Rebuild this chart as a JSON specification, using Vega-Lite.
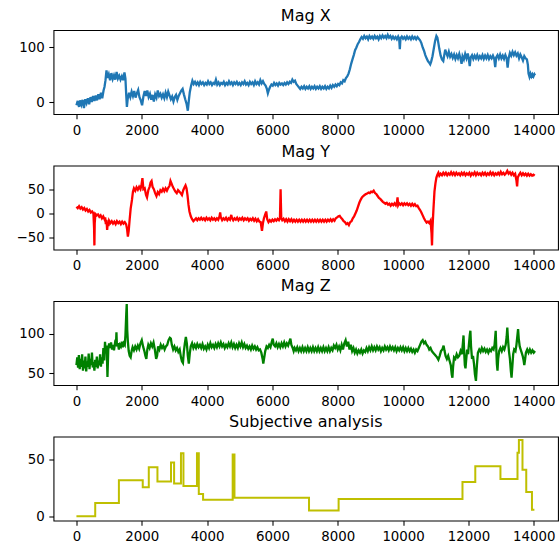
{
"$schema": "https://vega.github.io/schema/vega-lite/v6.json",
"autosize": {"type": "pad"},
"padding": {"left": 14.5, "top": 7, "right": 3, "bottom": 2},
"background": "white",
"config": {
  "view": {"stroke": "black", "strokeWidth": 1.07},
  "font": "DejaVu Sans",
  "axis": {"domain": false, "grid": false, "tickColor": "black", "tickSize": 4.67, "tickWidth": 1.07, "labelColor": "black", "labelFont": "DejaVu Sans", "labelFontSize": 13.33, "labelPadding": 4.67, "labelFlush": false, "labelOverlap": false},
  "title": {"font": "DejaVu Sans", "fontSize": 16, "fontWeight": "normal", "color": "black", "baseline": "alphabetic", "offset": 6}
},
"datasets": {
"magx": [
{"t":0,"v":-6},{"t":40,"v":2},{"t":80,"v":-9},{"t":110,"v":3},{"t":150,"v":-5},{"t":190,"v":4},{"t":230,"v":-11},{"t":270,"v":5},{"t":310,"v":-2},{"t":350,"v":7},{"t":390,"v":-4},{"t":430,"v":9},{"t":470,"v":0},{"t":510,"v":11},{"t":550,"v":2},{"t":590,"v":12},{"t":630,"v":3},{"t":670,"v":14},{"t":710,"v":5},{"t":750,"v":17},{"t":790,"v":7},{"t":830,"v":21},{"t":860,"v":28},{"t":890,"v":40},{"t":920,"v":58},{"t":950,"v":44},{"t":990,"v":51},{"t":1030,"v":40},{"t":1070,"v":53},{"t":1110,"v":42},{"t":1150,"v":49},{"t":1190,"v":41},{"t":1230,"v":55},{"t":1270,"v":43},{"t":1310,"v":48},{"t":1350,"v":41},{"t":1390,"v":47},{"t":1430,"v":40},{"t":1470,"v":54},{"t":1500,"v":43},{"t":1525,"v":12},{"t":1545,"v":-9},{"t":1570,"v":6},{"t":1610,"v":17},{"t":1650,"v":9},{"t":1690,"v":19},{"t":1730,"v":11},{"t":1770,"v":20},{"t":1810,"v":8},{"t":1850,"v":16},{"t":1890,"v":22},{"t":1930,"v":9},{"t":1970,"v":3},{"t":2010,"v":-6},{"t":2050,"v":10},{"t":2090,"v":20},{"t":2130,"v":11},{"t":2170,"v":21},{"t":2210,"v":9},{"t":2250,"v":15},{"t":2290,"v":4},{"t":2330,"v":13},{"t":2370,"v":1},{"t":2410,"v":14},{"t":2450,"v":8},{"t":2490,"v":21},{"t":2530,"v":11},{"t":2570,"v":15},{"t":2610,"v":8},{"t":2650,"v":14},{"t":2690,"v":7},{"t":2730,"v":17},{"t":2770,"v":9},{"t":2810,"v":19},{"t":2850,"v":12},{"t":2890,"v":5},{"t":2930,"v":10},{"t":2970,"v":1},{"t":3010,"v":9},{"t":3050,"v":13},{"t":3090,"v":4},{"t":3130,"v":11},{"t":3170,"v":16},{"t":3210,"v":21},{"t":3250,"v":24},{"t":3290,"v":14},{"t":3330,"v":5},{"t":3370,"v":-3},{"t":3410,"v":-16},{"t":3440,"v":2},{"t":3470,"v":18},{"t":3510,"v":30},{"t":3550,"v":39},{"t":3590,"v":33},{"t":3630,"v":37},{"t":3670,"v":32},{"t":3710,"v":36},{"t":3750,"v":31},{"t":3790,"v":37},{"t":3830,"v":33},{"t":3870,"v":36},{"t":3910,"v":31},{"t":3950,"v":35},{"t":3990,"v":32},{"t":4030,"v":38},{"t":4070,"v":33},{"t":4110,"v":36},{"t":4150,"v":31},{"t":4190,"v":35},{"t":4230,"v":33},{"t":4270,"v":41},{"t":4310,"v":32},{"t":4350,"v":36},{"t":4390,"v":31},{"t":4430,"v":35},{"t":4470,"v":33},{"t":4510,"v":37},{"t":4550,"v":31},{"t":4590,"v":35},{"t":4630,"v":32},{"t":4670,"v":38},{"t":4710,"v":33},{"t":4750,"v":36},{"t":4790,"v":31},{"t":4830,"v":36},{"t":4870,"v":33},{"t":4910,"v":37},{"t":4950,"v":32},{"t":4990,"v":35},{"t":5030,"v":31},{"t":5070,"v":36},{"t":5110,"v":33},{"t":5150,"v":38},{"t":5190,"v":32},{"t":5230,"v":35},{"t":5270,"v":31},{"t":5310,"v":37},{"t":5350,"v":33},{"t":5390,"v":36},{"t":5430,"v":31},{"t":5470,"v":38},{"t":5510,"v":33},{"t":5550,"v":36},{"t":5590,"v":32},{"t":5630,"v":40},{"t":5670,"v":34},{"t":5710,"v":38},{"t":5750,"v":33},{"t":5790,"v":30},{"t":5830,"v":24},{"t":5860,"v":16},{"t":5890,"v":22},{"t":5930,"v":28},{"t":5970,"v":32},{"t":6010,"v":30},{"t":6050,"v":35},{"t":6090,"v":31},{"t":6130,"v":34},{"t":6170,"v":30},{"t":6210,"v":35},{"t":6250,"v":32},{"t":6290,"v":34},{"t":6330,"v":31},{"t":6370,"v":35},{"t":6410,"v":32},{"t":6450,"v":36},{"t":6490,"v":33},{"t":6530,"v":37},{"t":6570,"v":35},{"t":6610,"v":41},{"t":6650,"v":37},{"t":6690,"v":39},{"t":6730,"v":33},{"t":6770,"v":30},{"t":6810,"v":27},{"t":6850,"v":24},{"t":6890,"v":28},{"t":6930,"v":25},{"t":6970,"v":29},{"t":7010,"v":24},{"t":7050,"v":28},{"t":7090,"v":25},{"t":7130,"v":29},{"t":7170,"v":24},{"t":7210,"v":28},{"t":7250,"v":25},{"t":7290,"v":29},{"t":7330,"v":24},{"t":7370,"v":28},{"t":7410,"v":25},{"t":7450,"v":29},{"t":7490,"v":24},{"t":7530,"v":28},{"t":7570,"v":25},{"t":7610,"v":29},{"t":7650,"v":24},{"t":7690,"v":28},{"t":7730,"v":25},{"t":7770,"v":30},{"t":7810,"v":26},{"t":7850,"v":31},{"t":7890,"v":28},{"t":7930,"v":32},{"t":7970,"v":29},{"t":8010,"v":33},{"t":8050,"v":31},{"t":8090,"v":36},{"t":8130,"v":34},{"t":8170,"v":40},{"t":8210,"v":38},{"t":8250,"v":44},{"t":8290,"v":47},{"t":8330,"v":52},{"t":8370,"v":60},{"t":8410,"v":70},{"t":8450,"v":78},{"t":8490,"v":86},{"t":8530,"v":95},{"t":8570,"v":100},{"t":8610,"v":106},{"t":8650,"v":110},{"t":8690,"v":115},{"t":8730,"v":119},{"t":8770,"v":116},{"t":8810,"v":121},{"t":8850,"v":117},{"t":8890,"v":120},{"t":8930,"v":115},{"t":8970,"v":121},{"t":9010,"v":117},{"t":9050,"v":120},{"t":9090,"v":116},{"t":9130,"v":121},{"t":9170,"v":117},{"t":9210,"v":120},{"t":9250,"v":115},{"t":9290,"v":121},{"t":9330,"v":117},{"t":9370,"v":122},{"t":9410,"v":118},{"t":9450,"v":121},{"t":9490,"v":117},{"t":9530,"v":123},{"t":9570,"v":118},{"t":9610,"v":121},{"t":9650,"v":116},{"t":9690,"v":120},{"t":9730,"v":116},{"t":9770,"v":119},{"t":9810,"v":115},{"t":9850,"v":120},{"t":9880,"v":116},{"t":9900,"v":97},{"t":9920,"v":117},{"t":9960,"v":120},{"t":10000,"v":116},{"t":10040,"v":119},{"t":10080,"v":115},{"t":10120,"v":120},{"t":10160,"v":116},{"t":10200,"v":119},{"t":10240,"v":115},{"t":10280,"v":120},{"t":10320,"v":116},{"t":10360,"v":119},{"t":10400,"v":115},{"t":10440,"v":119},{"t":10480,"v":116},{"t":10520,"v":113},{"t":10560,"v":108},{"t":10600,"v":100},{"t":10640,"v":94},{"t":10680,"v":86},{"t":10720,"v":80},{"t":10760,"v":75},{"t":10800,"v":72},{"t":10830,"v":69},{"t":10860,"v":74},{"t":10900,"v":84},{"t":10940,"v":98},{"t":10980,"v":112},{"t":11020,"v":121},{"t":11050,"v":118},{"t":11080,"v":108},{"t":11110,"v":97},{"t":11150,"v":85},{"t":11190,"v":78},{"t":11230,"v":75},{"t":11260,"v":86},{"t":11290,"v":96},{"t":11320,"v":90},{"t":11360,"v":84},{"t":11400,"v":92},{"t":11440,"v":83},{"t":11480,"v":88},{"t":11520,"v":81},{"t":11560,"v":87},{"t":11600,"v":79},{"t":11640,"v":86},{"t":11680,"v":80},{"t":11720,"v":88},{"t":11760,"v":79},{"t":11790,"v":70},{"t":11820,"v":84},{"t":11860,"v":78},{"t":11900,"v":88},{"t":11940,"v":80},{"t":11980,"v":89},{"t":12010,"v":79},{"t":12040,"v":66},{"t":12070,"v":82},{"t":12110,"v":86},{"t":12150,"v":79},{"t":12190,"v":85},{"t":12230,"v":80},{"t":12270,"v":86},{"t":12310,"v":79},{"t":12350,"v":84},{"t":12390,"v":80},{"t":12430,"v":86},{"t":12470,"v":79},{"t":12510,"v":85},{"t":12550,"v":80},{"t":12590,"v":86},{"t":12630,"v":79},{"t":12670,"v":84},{"t":12710,"v":80},{"t":12750,"v":85},{"t":12790,"v":79},{"t":12820,"v":64},{"t":12850,"v":82},{"t":12890,"v":86},{"t":12930,"v":80},{"t":12970,"v":87},{"t":13010,"v":80},{"t":13050,"v":85},{"t":13090,"v":79},{"t":13130,"v":86},{"t":13170,"v":80},{"t":13200,"v":63},{"t":13230,"v":80},{"t":13270,"v":90},{"t":13310,"v":85},{"t":13350,"v":92},{"t":13390,"v":86},{"t":13430,"v":91},{"t":13470,"v":85},{"t":13510,"v":89},{"t":13550,"v":80},{"t":13590,"v":87},{"t":13630,"v":82},{"t":13670,"v":76},{"t":13710,"v":84},{"t":13750,"v":80},{"t":13790,"v":78},{"t":13820,"v":68},{"t":13840,"v":52},{"t":13870,"v":46},{"t":13900,"v":52},{"t":13930,"v":47},{"t":13960,"v":51},{"t":13990,"v":47},{"t":14020,"v":51},{"t":14040,"v":49}
],
"magy": [
{"t":0,"v":14},{"t":40,"v":11},{"t":80,"v":15},{"t":120,"v":10},{"t":160,"v":13},{"t":200,"v":8},{"t":240,"v":11},{"t":280,"v":6},{"t":320,"v":9},{"t":360,"v":4},{"t":400,"v":7},{"t":440,"v":2},{"t":480,"v":4},{"t":520,"v":0},{"t":540,"v":-30},{"t":550,"v":-66},{"t":560,"v":-20},{"t":580,"v":-1},{"t":620,"v":-4},{"t":660,"v":-2},{"t":700,"v":-7},{"t":740,"v":-4},{"t":780,"v":-10},{"t":820,"v":-6},{"t":860,"v":-12},{"t":880,"v":-8},{"t":900,"v":-22},{"t":920,"v":-13},{"t":940,"v":-34},{"t":960,"v":-18},{"t":980,"v":-26},{"t":1000,"v":-15},{"t":1040,"v":-20},{"t":1080,"v":-16},{"t":1120,"v":-21},{"t":1160,"v":-17},{"t":1200,"v":-22},{"t":1240,"v":-16},{"t":1280,"v":-20},{"t":1320,"v":-17},{"t":1360,"v":-22},{"t":1400,"v":-17},{"t":1440,"v":-21},{"t":1480,"v":-18},{"t":1520,"v":-22},{"t":1550,"v":-32},{"t":1575,"v":-48},{"t":1600,"v":-36},{"t":1630,"v":-12},{"t":1660,"v":10},{"t":1700,"v":28},{"t":1730,"v":45},{"t":1760,"v":52},{"t":1800,"v":47},{"t":1840,"v":54},{"t":1880,"v":49},{"t":1920,"v":55},{"t":1960,"v":50},{"t":1990,"v":58},{"t":2020,"v":73},{"t":2050,"v":50},{"t":2090,"v":52},{"t":2130,"v":38},{"t":2160,"v":33},{"t":2200,"v":48},{"t":2240,"v":55},{"t":2270,"v":64},{"t":2300,"v":67},{"t":2330,"v":55},{"t":2370,"v":50},{"t":2410,"v":42},{"t":2450,"v":36},{"t":2490,"v":44},{"t":2530,"v":40},{"t":2570,"v":48},{"t":2610,"v":45},{"t":2650,"v":51},{"t":2690,"v":46},{"t":2730,"v":52},{"t":2770,"v":47},{"t":2810,"v":53},{"t":2850,"v":57},{"t":2880,"v":67},{"t":2910,"v":62},{"t":2950,"v":55},{"t":2990,"v":50},{"t":3030,"v":45},{"t":3070,"v":42},{"t":3110,"v":48},{"t":3150,"v":45},{"t":3190,"v":42},{"t":3230,"v":38},{"t":3270,"v":48},{"t":3310,"v":54},{"t":3340,"v":58},{"t":3370,"v":52},{"t":3400,"v":38},{"t":3430,"v":18},{"t":3460,"v":4},{"t":3500,"v":-6},{"t":3540,"v":-12},{"t":3580,"v":-16},{"t":3620,"v":-13},{"t":3660,"v":-10},{"t":3700,"v":-14},{"t":3740,"v":-10},{"t":3780,"v":-13},{"t":3820,"v":-9},{"t":3860,"v":-13},{"t":3900,"v":-10},{"t":3940,"v":-14},{"t":3980,"v":-9},{"t":4020,"v":-13},{"t":4060,"v":-10},{"t":4100,"v":-14},{"t":4140,"v":-9},{"t":4180,"v":-13},{"t":4220,"v":-10},{"t":4260,"v":-14},{"t":4300,"v":-10},{"t":4340,"v":-13},{"t":4380,"v":-6},{"t":4400,"v":2},{"t":4420,"v":-8},{"t":4460,"v":-14},{"t":4500,"v":-10},{"t":4540,"v":-13},{"t":4580,"v":-9},{"t":4620,"v":-14},{"t":4660,"v":-10},{"t":4700,"v":-13},{"t":4740,"v":-3},{"t":4760,"v":-9},{"t":4800,"v":-14},{"t":4840,"v":-10},{"t":4880,"v":-13},{"t":4920,"v":-9},{"t":4960,"v":-14},{"t":5000,"v":-10},{"t":5040,"v":-13},{"t":5080,"v":-9},{"t":5120,"v":-14},{"t":5160,"v":-10},{"t":5200,"v":-13},{"t":5240,"v":-10},{"t":5280,"v":-15},{"t":5320,"v":-11},{"t":5360,"v":-14},{"t":5400,"v":-10},{"t":5440,"v":-15},{"t":5480,"v":-11},{"t":5520,"v":-16},{"t":5560,"v":-12},{"t":5600,"v":-17},{"t":5640,"v":-18},{"t":5680,"v":-36},{"t":5710,"v":-20},{"t":5740,"v":-10},{"t":5780,"v":-2},{"t":5810,"v":4},{"t":5840,"v":-12},{"t":5880,"v":-18},{"t":5920,"v":-14},{"t":5960,"v":-17},{"t":6000,"v":-13},{"t":6040,"v":-16},{"t":6080,"v":-12},{"t":6120,"v":-15},{"t":6160,"v":-11},{"t":6200,"v":-14},{"t":6230,"v":-10},{"t":6250,"v":50},{"t":6270,"v":-10},{"t":6300,"v":-14},{"t":6340,"v":-11},{"t":6380,"v":-16},{"t":6420,"v":-12},{"t":6460,"v":-17},{"t":6500,"v":-12},{"t":6540,"v":-16},{"t":6580,"v":-12},{"t":6620,"v":-17},{"t":6660,"v":-13},{"t":6700,"v":-17},{"t":6740,"v":-13},{"t":6780,"v":-17},{"t":6820,"v":-13},{"t":6860,"v":-17},{"t":6900,"v":-13},{"t":6940,"v":-17},{"t":6980,"v":-13},{"t":7020,"v":-17},{"t":7060,"v":-13},{"t":7100,"v":-17},{"t":7140,"v":-13},{"t":7180,"v":-17},{"t":7220,"v":-13},{"t":7260,"v":-17},{"t":7300,"v":-13},{"t":7340,"v":-17},{"t":7380,"v":-13},{"t":7420,"v":-17},{"t":7460,"v":-13},{"t":7500,"v":-17},{"t":7540,"v":-13},{"t":7580,"v":-17},{"t":7620,"v":-13},{"t":7660,"v":-17},{"t":7700,"v":-13},{"t":7740,"v":-16},{"t":7780,"v":-12},{"t":7820,"v":-16},{"t":7860,"v":-12},{"t":7900,"v":-15},{"t":7940,"v":-10},{"t":7980,"v":-8},{"t":8020,"v":-6},{"t":8060,"v":-5},{"t":8100,"v":-9},{"t":8140,"v":-12},{"t":8180,"v":-16},{"t":8220,"v":-18},{"t":8260,"v":-22},{"t":8300,"v":-20},{"t":8340,"v":-24},{"t":8380,"v":-18},{"t":8420,"v":-16},{"t":8460,"v":-10},{"t":8500,"v":-6},{"t":8540,"v":0},{"t":8580,"v":6},{"t":8620,"v":14},{"t":8660,"v":22},{"t":8700,"v":28},{"t":8740,"v":33},{"t":8780,"v":36},{"t":8820,"v":38},{"t":8860,"v":40},{"t":8900,"v":41},{"t":8940,"v":43},{"t":8980,"v":42},{"t":9020,"v":45},{"t":9060,"v":44},{"t":9100,"v":47},{"t":9140,"v":42},{"t":9180,"v":40},{"t":9220,"v":36},{"t":9260,"v":32},{"t":9300,"v":30},{"t":9340,"v":27},{"t":9380,"v":24},{"t":9420,"v":22},{"t":9460,"v":20},{"t":9500,"v":22},{"t":9540,"v":18},{"t":9580,"v":20},{"t":9620,"v":16},{"t":9660,"v":20},{"t":9700,"v":17},{"t":9740,"v":21},{"t":9780,"v":17},{"t":9810,"v":22},{"t":9830,"v":33},{"t":9850,"v":17},{"t":9880,"v":21},{"t":9920,"v":18},{"t":9960,"v":21},{"t":10000,"v":17},{"t":10040,"v":21},{"t":10080,"v":18},{"t":10120,"v":21},{"t":10160,"v":17},{"t":10200,"v":20},{"t":10240,"v":16},{"t":10280,"v":20},{"t":10320,"v":16},{"t":10360,"v":19},{"t":10400,"v":15},{"t":10440,"v":16},{"t":10480,"v":11},{"t":10520,"v":7},{"t":10560,"v":2},{"t":10600,"v":-4},{"t":10640,"v":-10},{"t":10680,"v":-15},{"t":10720,"v":-19},{"t":10760,"v":-17},{"t":10800,"v":-20},{"t":10840,"v":-15},{"t":10870,"v":-40},{"t":10885,"v":-66},{"t":10900,"v":-30},{"t":10930,"v":10},{"t":10960,"v":45},{"t":10990,"v":62},{"t":11020,"v":74},{"t":11050,"v":80},{"t":11080,"v":84},{"t":11110,"v":78},{"t":11150,"v":82},{"t":11190,"v":79},{"t":11230,"v":84},{"t":11270,"v":80},{"t":11310,"v":84},{"t":11350,"v":79},{"t":11390,"v":83},{"t":11430,"v":80},{"t":11470,"v":85},{"t":11510,"v":80},{"t":11550,"v":84},{"t":11590,"v":79},{"t":11630,"v":84},{"t":11670,"v":80},{"t":11710,"v":83},{"t":11750,"v":79},{"t":11790,"v":84},{"t":11830,"v":80},{"t":11870,"v":84},{"t":11910,"v":79},{"t":11950,"v":83},{"t":11990,"v":80},{"t":12030,"v":84},{"t":12070,"v":78},{"t":12110,"v":83},{"t":12150,"v":80},{"t":12190,"v":85},{"t":12230,"v":79},{"t":12270,"v":84},{"t":12310,"v":80},{"t":12350,"v":83},{"t":12390,"v":79},{"t":12430,"v":84},{"t":12470,"v":80},{"t":12510,"v":84},{"t":12550,"v":79},{"t":12590,"v":83},{"t":12630,"v":80},{"t":12670,"v":85},{"t":12710,"v":80},{"t":12750,"v":84},{"t":12790,"v":79},{"t":12830,"v":83},{"t":12870,"v":80},{"t":12910,"v":84},{"t":12950,"v":80},{"t":12990,"v":86},{"t":13030,"v":81},{"t":13070,"v":84},{"t":13110,"v":80},{"t":13150,"v":83},{"t":13190,"v":88},{"t":13230,"v":82},{"t":13270,"v":85},{"t":13310,"v":80},{"t":13350,"v":84},{"t":13390,"v":79},{"t":13430,"v":82},{"t":13470,"v":68},{"t":13490,"v":56},{"t":13510,"v":74},{"t":13550,"v":80},{"t":13590,"v":84},{"t":13630,"v":79},{"t":13670,"v":83},{"t":13710,"v":79},{"t":13750,"v":82},{"t":13790,"v":78},{"t":13830,"v":82},{"t":13870,"v":78},{"t":13910,"v":81},{"t":13950,"v":78},{"t":13990,"v":80},{"t":14030,"v":78}
],
"magz": [
{"t":0,"v":60},{"t":25,"v":70},{"t":50,"v":57},{"t":75,"v":73},{"t":100,"v":55},{"t":125,"v":68},{"t":150,"v":58},{"t":175,"v":74},{"t":200,"v":53},{"t":225,"v":66},{"t":250,"v":56},{"t":275,"v":71},{"t":300,"v":52},{"t":325,"v":65},{"t":350,"v":58},{"t":375,"v":75},{"t":400,"v":55},{"t":425,"v":68},{"t":450,"v":60},{"t":475,"v":76},{"t":500,"v":57},{"t":525,"v":64},{"t":550,"v":53},{"t":575,"v":67},{"t":600,"v":58},{"t":625,"v":71},{"t":650,"v":56},{"t":675,"v":66},{"t":700,"v":60},{"t":725,"v":74},{"t":750,"v":58},{"t":775,"v":70},{"t":800,"v":62},{"t":825,"v":82},{"t":850,"v":66},{"t":875,"v":90},{"t":900,"v":75},{"t":925,"v":85},{"t":950,"v":45},{"t":975,"v":80},{"t":1000,"v":88},{"t":1030,"v":82},{"t":1060,"v":89},{"t":1090,"v":80},{"t":1120,"v":86},{"t":1150,"v":79},{"t":1180,"v":88},{"t":1210,"v":85},{"t":1225,"v":102},{"t":1240,"v":84},{"t":1270,"v":88},{"t":1300,"v":80},{"t":1330,"v":86},{"t":1360,"v":84},{"t":1390,"v":90},{"t":1420,"v":83},{"t":1450,"v":88},{"t":1480,"v":86},{"t":1500,"v":98},{"t":1525,"v":125},{"t":1540,"v":138},{"t":1555,"v":105},{"t":1575,"v":90},{"t":1600,"v":78},{"t":1630,"v":72},{"t":1660,"v":70},{"t":1690,"v":78},{"t":1720,"v":83},{"t":1760,"v":79},{"t":1800,"v":84},{"t":1840,"v":80},{"t":1880,"v":85},{"t":1920,"v":81},{"t":1960,"v":88},{"t":2000,"v":92},{"t":2040,"v":84},{"t":2080,"v":78},{"t":2110,"v":72},{"t":2140,"v":68},{"t":2170,"v":80},{"t":2200,"v":86},{"t":2240,"v":82},{"t":2280,"v":88},{"t":2320,"v":84},{"t":2360,"v":89},{"t":2400,"v":80},{"t":2440,"v":68},{"t":2470,"v":72},{"t":2500,"v":84},{"t":2540,"v":80},{"t":2580,"v":86},{"t":2620,"v":82},{"t":2660,"v":85},{"t":2700,"v":80},{"t":2740,"v":84},{"t":2780,"v":86},{"t":2820,"v":92},{"t":2860,"v":95},{"t":2890,"v":94},{"t":2920,"v":86},{"t":2960,"v":80},{"t":3000,"v":84},{"t":3040,"v":79},{"t":3080,"v":82},{"t":3120,"v":77},{"t":3160,"v":80},{"t":3200,"v":70},{"t":3230,"v":65},{"t":3260,"v":63},{"t":3290,"v":78},{"t":3320,"v":88},{"t":3350,"v":96},{"t":3380,"v":88},{"t":3410,"v":72},{"t":3440,"v":62},{"t":3470,"v":75},{"t":3500,"v":84},{"t":3540,"v":88},{"t":3580,"v":82},{"t":3620,"v":86},{"t":3660,"v":82},{"t":3700,"v":87},{"t":3740,"v":83},{"t":3780,"v":86},{"t":3820,"v":82},{"t":3860,"v":87},{"t":3900,"v":81},{"t":3940,"v":84},{"t":3980,"v":80},{"t":4020,"v":86},{"t":4060,"v":82},{"t":4100,"v":88},{"t":4140,"v":83},{"t":4180,"v":86},{"t":4220,"v":82},{"t":4260,"v":87},{"t":4300,"v":83},{"t":4340,"v":88},{"t":4380,"v":84},{"t":4420,"v":89},{"t":4460,"v":84},{"t":4500,"v":87},{"t":4540,"v":82},{"t":4580,"v":86},{"t":4620,"v":83},{"t":4660,"v":88},{"t":4700,"v":84},{"t":4740,"v":89},{"t":4780,"v":83},{"t":4820,"v":87},{"t":4860,"v":82},{"t":4900,"v":86},{"t":4940,"v":82},{"t":4980,"v":88},{"t":5020,"v":84},{"t":5060,"v":89},{"t":5100,"v":83},{"t":5140,"v":87},{"t":5180,"v":82},{"t":5220,"v":85},{"t":5260,"v":81},{"t":5300,"v":84},{"t":5340,"v":80},{"t":5380,"v":85},{"t":5420,"v":81},{"t":5460,"v":84},{"t":5500,"v":80},{"t":5540,"v":83},{"t":5580,"v":79},{"t":5620,"v":80},{"t":5660,"v":76},{"t":5700,"v":68},{"t":5720,"v":62},{"t":5750,"v":70},{"t":5780,"v":78},{"t":5820,"v":84},{"t":5860,"v":82},{"t":5900,"v":86},{"t":5940,"v":83},{"t":5980,"v":90},{"t":6010,"v":94},{"t":6040,"v":86},{"t":6080,"v":84},{"t":6120,"v":88},{"t":6160,"v":83},{"t":6200,"v":87},{"t":6240,"v":83},{"t":6280,"v":88},{"t":6320,"v":84},{"t":6360,"v":89},{"t":6400,"v":84},{"t":6440,"v":88},{"t":6480,"v":85},{"t":6520,"v":90},{"t":6550,"v":94},{"t":6580,"v":86},{"t":6620,"v":82},{"t":6650,"v":78},{"t":6680,"v":82},{"t":6720,"v":79},{"t":6760,"v":83},{"t":6800,"v":78},{"t":6840,"v":82},{"t":6880,"v":78},{"t":6920,"v":83},{"t":6960,"v":78},{"t":7000,"v":82},{"t":7040,"v":78},{"t":7080,"v":83},{"t":7120,"v":78},{"t":7160,"v":82},{"t":7200,"v":78},{"t":7240,"v":83},{"t":7280,"v":78},{"t":7320,"v":82},{"t":7360,"v":78},{"t":7400,"v":83},{"t":7440,"v":78},{"t":7480,"v":82},{"t":7520,"v":78},{"t":7560,"v":83},{"t":7600,"v":78},{"t":7640,"v":82},{"t":7680,"v":78},{"t":7720,"v":83},{"t":7760,"v":78},{"t":7800,"v":82},{"t":7840,"v":79},{"t":7880,"v":85},{"t":7920,"v":82},{"t":7960,"v":86},{"t":8000,"v":80},{"t":8040,"v":84},{"t":8080,"v":79},{"t":8120,"v":86},{"t":8160,"v":80},{"t":8200,"v":88},{"t":8240,"v":92},{"t":8280,"v":84},{"t":8320,"v":90},{"t":8360,"v":80},{"t":8400,"v":86},{"t":8440,"v":78},{"t":8480,"v":82},{"t":8520,"v":76},{"t":8560,"v":80},{"t":8600,"v":75},{"t":8640,"v":79},{"t":8680,"v":76},{"t":8720,"v":80},{"t":8760,"v":75},{"t":8800,"v":79},{"t":8840,"v":77},{"t":8880,"v":82},{"t":8920,"v":78},{"t":8960,"v":83},{"t":9000,"v":79},{"t":9040,"v":84},{"t":9080,"v":79},{"t":9120,"v":83},{"t":9160,"v":79},{"t":9200,"v":84},{"t":9240,"v":80},{"t":9280,"v":83},{"t":9320,"v":78},{"t":9360,"v":82},{"t":9400,"v":79},{"t":9440,"v":84},{"t":9480,"v":80},{"t":9520,"v":83},{"t":9560,"v":79},{"t":9600,"v":84},{"t":9640,"v":80},{"t":9680,"v":83},{"t":9720,"v":79},{"t":9760,"v":83},{"t":9800,"v":78},{"t":9840,"v":82},{"t":9880,"v":79},{"t":9920,"v":83},{"t":9960,"v":79},{"t":10000,"v":83},{"t":10040,"v":78},{"t":10080,"v":82},{"t":10120,"v":78},{"t":10160,"v":82},{"t":10200,"v":78},{"t":10240,"v":81},{"t":10280,"v":77},{"t":10320,"v":80},{"t":10360,"v":76},{"t":10400,"v":80},{"t":10440,"v":78},{"t":10480,"v":82},{"t":10520,"v":86},{"t":10560,"v":90},{"t":10600,"v":92},{"t":10640,"v":88},{"t":10680,"v":90},{"t":10720,"v":86},{"t":10760,"v":84},{"t":10800,"v":80},{"t":10840,"v":82},{"t":10880,"v":78},{"t":10920,"v":76},{"t":10960,"v":74},{"t":11000,"v":72},{"t":11040,"v":70},{"t":11080,"v":67},{"t":11120,"v":72},{"t":11160,"v":78},{"t":11200,"v":80},{"t":11240,"v":85},{"t":11270,"v":78},{"t":11300,"v":72},{"t":11340,"v":68},{"t":11380,"v":72},{"t":11420,"v":66},{"t":11460,"v":60},{"t":11490,"v":48},{"t":11510,"v":44},{"t":11530,"v":58},{"t":11560,"v":70},{"t":11600,"v":68},{"t":11640,"v":74},{"t":11680,"v":70},{"t":11720,"v":72},{"t":11760,"v":78},{"t":11800,"v":74},{"t":11830,"v":88},{"t":11850,"v":98},{"t":11870,"v":76},{"t":11890,"v":60},{"t":11910,"v":56},{"t":11930,"v":66},{"t":11960,"v":80},{"t":11990,"v":74},{"t":12010,"v":84},{"t":12040,"v":98},{"t":12060,"v":104},{"t":12080,"v":84},{"t":12110,"v":68},{"t":12140,"v":72},{"t":12170,"v":62},{"t":12200,"v":48},{"t":12230,"v":40},{"t":12260,"v":60},{"t":12290,"v":76},{"t":12330,"v":80},{"t":12370,"v":77},{"t":12410,"v":82},{"t":12450,"v":78},{"t":12490,"v":81},{"t":12530,"v":77},{"t":12570,"v":80},{"t":12610,"v":76},{"t":12650,"v":80},{"t":12690,"v":78},{"t":12730,"v":82},{"t":12770,"v":80},{"t":12800,"v":86},{"t":12820,"v":96},{"t":12835,"v":104},{"t":12850,"v":84},{"t":12870,"v":62},{"t":12890,"v":53},{"t":12910,"v":68},{"t":12940,"v":78},{"t":12980,"v":82},{"t":13020,"v":78},{"t":13060,"v":83},{"t":13100,"v":80},{"t":13140,"v":86},{"t":13170,"v":96},{"t":13190,"v":108},{"t":13210,"v":94},{"t":13240,"v":78},{"t":13270,"v":68},{"t":13300,"v":52},{"t":13320,"v":44},{"t":13340,"v":56},{"t":13370,"v":74},{"t":13400,"v":80},{"t":13440,"v":78},{"t":13470,"v":86},{"t":13500,"v":98},{"t":13520,"v":106},{"t":13540,"v":94},{"t":13570,"v":84},{"t":13600,"v":80},{"t":13630,"v":76},{"t":13660,"v":72},{"t":13690,"v":66},{"t":13710,"v":60},{"t":13730,"v":66},{"t":13760,"v":76},{"t":13800,"v":80},{"t":13840,"v":76},{"t":13880,"v":80},{"t":13920,"v":76},{"t":13960,"v":79},{"t":14000,"v":76},{"t":14040,"v":78}
],
"subj": [
{"t":0,"v":0.3},{"t":575,"v":11.8},{"t":1300,"v":31.5},{"t":2030,"v":25.5},{"t":2215,"v":42.8},{"t":2480,"v":30.5},{"t":2895,"v":47},{"t":2990,"v":28.8},{"t":3200,"v":55},{"t":3276,"v":26.5},{"t":3690,"v":55},{"t":3746,"v":19.5},{"t":3877,"v":14.5},{"t":4783,"v":54},{"t":4838,"v":16.3},{"t":7120,"v":5.2},{"t":8026,"v":15.3},{"t":11818,"v":30},{"t":12210,"v":43.7},{"t":12980,"v":32.7},{"t":13502,"v":55.5},{"t":13545,"v":66.7},{"t":13655,"v":40.7},{"t":13770,"v":21.3},{"t":13945,"v":5.8},{"t":14020,"v":5.8}
]
},
"spacing": 51.5,
"bounds": "flush",
"vconcat": [
{"title": "Mag X", "width": 504.5, "height": 84, "data": {"name": "magx"},
 "mark": {"type": "line", "color": "#1f77b4", "strokeWidth": 2.3},
 "encoding": {
  "x": {"field": "t", "type": "quantitative", "title": null, "scale": {"domain": [-702, 14742], "nice": false, "zero": false}, "axis": {"values": [0, 2000, 4000, 6000, 8000, 10000, 12000, 14000], "format": "d"}},
  "y": {"field": "v", "type": "quantitative", "title": null, "scale": {"domain": [-22, 132], "nice": false, "zero": false}, "axis": {"values": [0, 100], "format": "d"}}
 }},
{"title": "Mag Y", "width": 504.5, "height": 84, "data": {"name": "magy"},
 "mark": {"type": "line", "color": "#ff0000", "strokeWidth": 2.3},
 "encoding": {
  "x": {"field": "t", "type": "quantitative", "title": null, "scale": {"domain": [-702, 14742], "nice": false, "zero": false}, "axis": {"values": [0, 2000, 4000, 6000, 8000, 10000, 12000, 14000], "format": "d"}},
  "y": {"field": "v", "type": "quantitative", "title": null, "scale": {"domain": [-74.5, 99], "nice": false, "zero": false}, "axis": {"values": [-50, 0, 50], "format": "d"}}
 }},
{"title": "Mag Z", "width": 504.5, "height": 84, "data": {"name": "magz"},
 "mark": {"type": "line", "color": "#008000", "strokeWidth": 2.3},
 "encoding": {
  "x": {"field": "t", "type": "quantitative", "title": null, "scale": {"domain": [-702, 14742], "nice": false, "zero": false}, "axis": {"values": [0, 2000, 4000, 6000, 8000, 10000, 12000, 14000], "format": "d"}},
  "y": {"field": "v", "type": "quantitative", "title": null, "scale": {"domain": [34.7, 142], "nice": false, "zero": false}, "axis": {"values": [50, 100], "format": "d"}}
 }},
{"title": "Subjective analysis", "width": 504.5, "height": 84, "data": {"name": "subj"},
 "mark": {"type": "line", "color": "#bfbf00", "strokeWidth": 2, "interpolate": "step-after"},
 "encoding": {
  "x": {"field": "t", "type": "quantitative", "title": null, "scale": {"domain": [-702, 14742], "nice": false, "zero": false}, "axis": {"values": [0, 2000, 4000, 6000, 8000, 10000, 12000, 14000], "format": "d"}},
  "y": {"field": "v", "type": "quantitative", "title": null, "scale": {"domain": [-3.5, 69.7], "nice": false, "zero": false}, "axis": {"values": [0, 50], "format": "d"}}
 }}
]
}
